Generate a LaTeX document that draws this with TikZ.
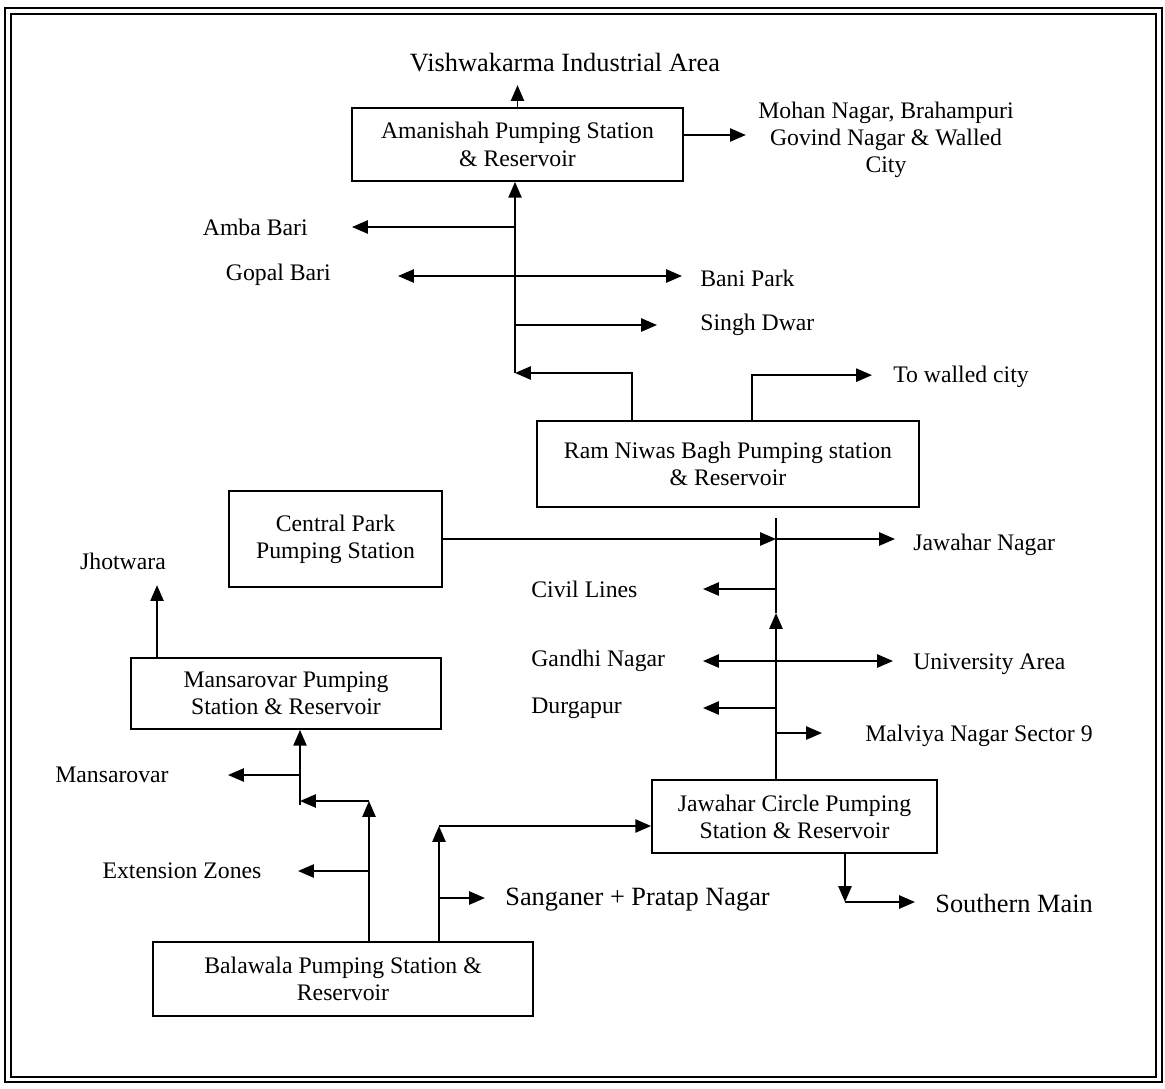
\documentclass[tikz,border=0pt]{standalone}
\usepackage{fontspec}
\setmainfont{Liberation Serif}
\usepackage{tikz}
\usetikzlibrary{arrows.meta, positioning, calc}

\begin{document}
\begin{tikzpicture}[
    x=0.02cm, y=-0.02cm,
    station/.style={draw, line width=1pt, align=center, inner sep=0pt, font=\fontsize{13.5}{15.5}\selectfont},
    place/.style={inner sep=0pt, align=center, font=\fontsize{13.5}{15.5}\selectfont},
    bigplace/.style={inner sep=0pt, font=\fontsize{15}{17}\selectfont},
    arrow/.style={-{Triangle[length=9pt,width=7.5pt]}, line width=1pt},
    dblarrow/.style={{Triangle[length=9pt,width=7.5pt]}-{Triangle[length=9pt,width=7.5pt]}, line width=1pt},
    pipe/.style={line width=1pt}
]
\useasboundingbox (0,0) rectangle (1165,1088);

% Frame
\draw[line width=1.6pt] (5,8) rectangle (1162,1082);
\draw[line width=0.7pt] (11,14) rectangle (1156,1077);

% Stations
\node[station, minimum width=6.62cm, minimum height=1.46cm] (aman) at (517.5,144.5) {Amanishah Pumping Station\\\& Reservoir};
\node[station, minimum width=7.64cm, minimum height=1.72cm] (ramniwas) at (728,464) {Ram Niwas Bagh Pumping station\\\& Reservoir};
\node[station, minimum width=4.26cm, minimum height=1.92cm] (cpark) at (335.5,539) {Central Park\\Pumping Station};
\node[station, minimum width=6.2cm, minimum height=1.42cm] (mansa) at (286,693.5) {Mansarovar Pumping\\Station \& Reservoir};
\node[station, minimum width=5.7cm, minimum height=1.46cm] (jcircle) at (794.5,816.5) {Jawahar Circle Pumping\\Station \& Reservoir};
\node[station, minimum width=7.6cm, minimum height=1.48cm] (bala) at (343,979) {Balawala Pumping Station \&\\Reservoir};

% Places
\node[place, font=\fontsize{15}{17}\selectfont] (vish) at (565,63) {Vishwakarma Industrial Area};
\node[place] (mohan) at (886,140) {Mohan Nagar, Brahampuri\\Govind Nagar \& Walled\\City};
\node[place, anchor=east] (amba) at (308,227) {Amba Bari};
\node[place, anchor=east] (gopal) at (331,275) {Gopal Bari};
\node[place, anchor=west] (bani) at (700,278) {Bani Park};
\node[place, anchor=west] (singh) at (700,325) {Singh Dwar};
\node[place, anchor=west] (walled) at (893,377) {To walled city};
\node[place, anchor=west] (jnagar) at (913,545) {Jawahar Nagar};
\node[place] (jhot) at (123,561) {Jhotwara};
\node[place, anchor=west] (civil) at (531,589) {Civil Lines};
\node[place, anchor=west] (gandhi) at (531,661) {Gandhi Nagar};
\node[place, anchor=west] (univ) at (913,664) {University Area};
\node[place, anchor=west] (durga) at (531,708) {Durgapur};
\node[place, anchor=west] (malviya) at (865,736) {Malviya Nagar Sector 9};
\node[place] (mansl) at (112,775) {Mansarovar};
\node[place] (extz) at (182,871) {Extension Zones};
\node[bigplace, anchor=west] (sang) at (505,900) {Sanganer + Pratap Nagar};
\node[bigplace, anchor=west] (south) at (935,903) {Southern Main};

% Junctions
\coordinate (atrunk) at (515,373);
\coordinate (jtop) at (776,518);
\coordinate (jmid) at (776,613);
\coordinate (mtrunk) at (300,805);
\coordinate (bcorner) at (369,801);
\coordinate (bcorner2) at (439,826);
\coordinate (scorner) at (845,902);

% Amanishah
\draw[arrow] (aman.north) -- ++(0,-22);
\draw[arrow] ([yshift=0.19cm]aman.east) -- ++(62,0);
\draw[arrow] (atrunk) -- (atrunk |- aman.south);
\draw[arrow] (atrunk |- amba) -- ++(-163,0);
\draw[dblarrow] ($(atrunk |- gopal)+(-117,1)$) -- ++(284,0);
\draw[arrow] (atrunk |- singh) -- ++(142,0);

% Ram Niwas Bagh
\draw[arrow] ([xshift=-1.92cm]ramniwas.north) |- (atrunk);
\draw[arrow] ([xshift=0.48cm]ramniwas.north) |- ++(120,-45);

% Jawahar Circle trunk
\draw[arrow] (jtop |- jcircle.north) -- (jmid);
\draw[pipe] (jmid) -- (jtop);
\draw[arrow] (cpark.east) -- (cpark.east -| jtop);
\draw[arrow] (cpark.east -| jtop) -- ++(119,0);
\draw[arrow] (jtop |- civil) -- ++(-73,0);
\draw[dblarrow] ($(jtop |- gandhi)+(-73,0)$) -- ++(190,0);
\draw[arrow] (jtop |- durga) -- ++(-73,0);
\draw[arrow] ($(jtop |- malviya)+(0,-3)$) -- ++(46,0);
\draw[arrow] (scorner |- jcircle.south) -- (scorner);
\draw[arrow] (scorner) -- ++(70,0);

% Mansarovar
\draw[arrow] ([xshift=-2.58cm]mansa.north) -- ++(0,-72);
\draw[arrow] (mtrunk) -- (mtrunk |- mansa.south);
\draw[arrow] (mtrunk |- mansl) -- ++(-72,0);

% Balawala
\draw[arrow] (bcorner |- bala.north) -- (bcorner);
\draw[arrow] (bcorner) -- (bcorner -| mtrunk);
\draw[arrow] (bcorner |- extz) -- ++(-71,0);
\draw[arrow] (bcorner2 |- bala.north) -- (bcorner2);
\draw[arrow] (bcorner2) -- (bcorner2 -| jcircle.west);
\draw[arrow] ($(bcorner2 |- sang)+(0,-2)$) -- ++(46,0);

\end{tikzpicture}
\end{document}
